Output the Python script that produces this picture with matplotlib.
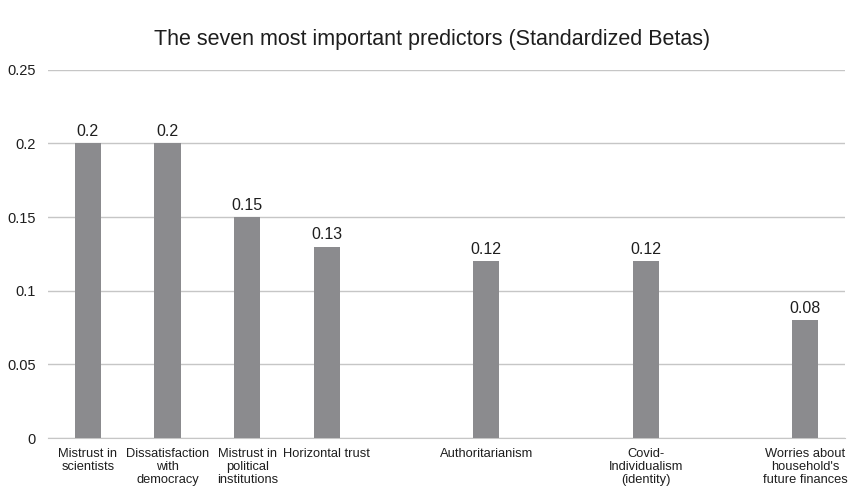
import numpy as np
import matplotlib
matplotlib.use("Agg")
import matplotlib.pyplot as plt

plt.rcParams['font.family'] = ['Liberation Sans', 'DejaVu Sans']

# Excel-style category axis: blank slots keep the wider gaps between groups
categories = [
    "Mistrust in\nscientists",
    "Dissatisfaction\nwith\ndemocracy",
    "Mistrust in\npolitical\ninstitutions",
    "Horizontal trust",
    "",
    "Authoritarianism",
    "",
    "Covid-\nIndividualism\n(identity)",
    "",
    "Worries about\nhousehold's\nfuture finances",
]
betas = [0.2, 0.2, 0.15, 0.13, None, 0.12, None, 0.12, None, 0.08]

bar_color = "#8b8b8e"
grid_color = "#c6c6c6"
text_color = "#1e1e1e"

fig = plt.figure(figsize=(8.5, 4.95), dpi=100)
ax = fig.add_axes([0.0565, 0.115, 0.9375, 0.744])

x = np.arange(len(categories))
for xi, b in zip(x, betas):
    if b is None:
        continue
    ax.bar(xi, b, width=0.33, color=bar_color, zorder=3)
    ax.text(xi, b + 0.003, f"{b:g}", ha="center", va="bottom",
            fontsize=11.5, color=text_color)

ax.set_xlim(-0.5, len(categories) - 0.5)
ax.set_ylim(0, 0.25)
ax.set_yticks([0, 0.05, 0.1, 0.15, 0.2, 0.25])
ax.set_yticklabels(["0", "0.05", "0.1", "0.15", "0.2", "0.25"])
ax.set_xticks(x)
ax.set_xticklabels(categories, fontsize=9.3, color=text_color, linespacing=1.15)

ax.yaxis.grid(True, color=grid_color, linewidth=1, zorder=0)
ax.tick_params(axis="both", length=0)
ax.tick_params(axis="y", pad=9, labelsize=10.5, labelcolor=text_color)
ax.tick_params(axis="x", pad=7)
for side in ["top", "right", "left"]:
    ax.spines[side].set_visible(False)
ax.spines["bottom"].set_color(grid_color)

fig.suptitle("The seven most important predictors (Standardized Betas)",
             x=0.508, y=0.92, va="center", fontsize=15.5, color=text_color)

fig.savefig("out.png", dpi=100)
